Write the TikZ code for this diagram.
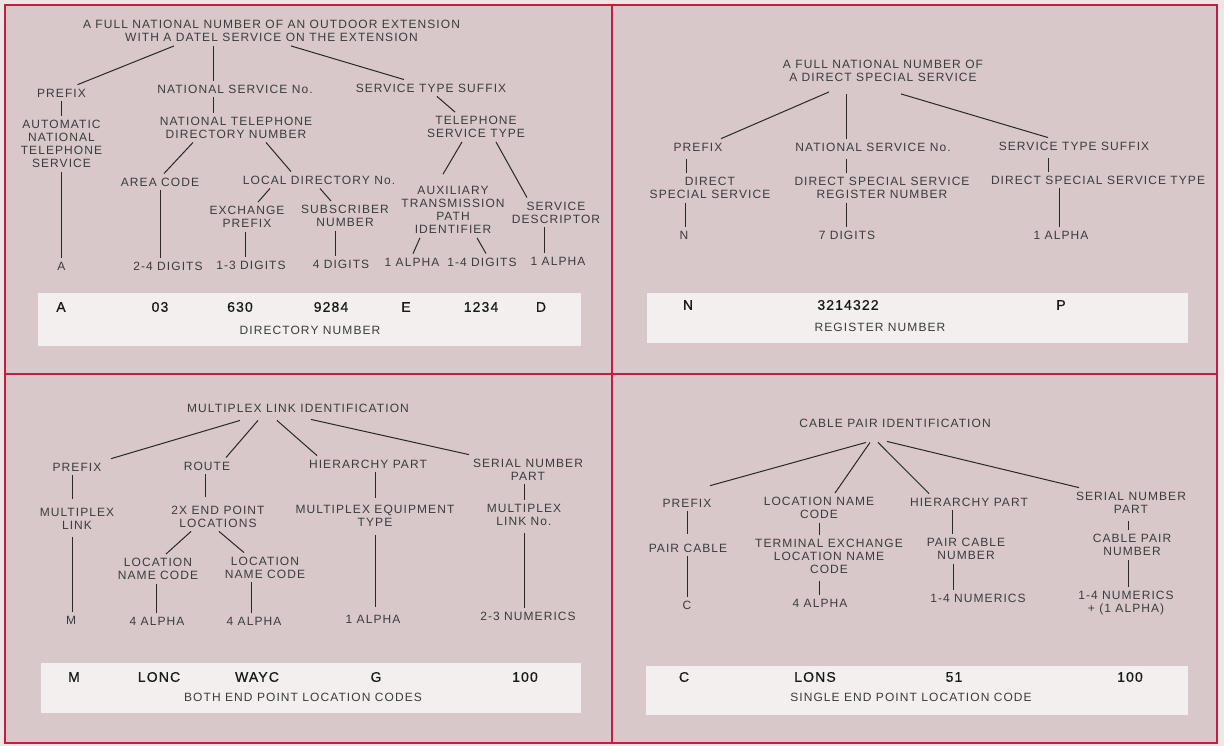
\documentclass[tikz,border=0pt]{standalone}
\usepackage{fontspec}
\setmainfont{Liberation Sans}
\newfontfamily\lblfont[LetterSpace=9]{Liberation Sans}
\newfontfamily\valfont[LetterSpace=8,FakeBold=0.6]{Liberation Sans}
\usetikzlibrary{calc}
\definecolor{paper}{RGB}{238,229,229}
\definecolor{card}{RGB}{217,200,201}
\definecolor{strip}{RGB}{243,239,238}
\definecolor{frame}{RGB}{196,28,66}
\definecolor{ink}{RGB}{40,40,40}
\definecolor{txt}{RGB}{60,60,60}
\definecolor{valtxt}{RGB}{25,25,25}
\tikzset{
	lbl/.style={font=\lblfont\fontsize{12}{13}\selectfont, text=txt, inner sep=4pt, align=center},
	val/.style={font=\valfont\fontsize{14}{16}\selectfont, text=valtxt, inner sep=0pt},
	link/.style={draw=ink, line width=1pt},
	edge/.style={draw=frame, line width=2.6pt}
}

\begin{document}
\begin{tikzpicture}[x=1pt,y=-1pt]
		\fill[paper] (0,0) rectangle (1224,746);
		\useasboundingbox (0,0) rectangle (1224,746);
		\fill[card] (5,5) rectangle (1217,743);
		\fill[strip] (38,293) rectangle (581,346);
		\fill[strip] (647,293) rectangle (1188,343);
		\fill[strip] (41,663) rectangle (581,713);
		\fill[strip] (646,666) rectangle (1188,715);
		\draw[edge] (5,5) rectangle (1217,743);
		\draw[edge] (612,5) -- (612,743);
		\draw[edge] (5,374) -- (1217,374);
		
		\node[lbl] (t1) at (271.5,31) {A FULL NATIONAL NUMBER OF AN OUTDOOR EXTENSION\\WITH A DATEL SERVICE ON THE EXTENSION};
		\node[lbl] (p1) at (61.5,93) {PREFIX};
		\node[lbl] (n1) at (235,89) {NATIONAL SERVICE No.};
		\node[lbl] (s1) at (431,88) {SERVICE TYPE SUFFIX};
		\node[lbl] (a1) at (61.5,144) {AUTOMATIC\\NATIONAL\\TELEPHONE\\SERVICE};
		\node[lbl] (d1) at (236,127.5) {NATIONAL TELEPHONE\\DIRECTORY NUMBER};
		\node[lbl] (tt1) at (476,127) {TELEPHONE\\SERVICE TYPE};
		\node[lbl] (ac1) at (160,182) {AREA CODE};
		\node[lbl] (lo1) at (319,180) {LOCAL DIRECTORY No.};
		\node[lbl] (ex1) at (247,217) {EXCHANGE\\PREFIX};
		\node[lbl] (sb1) at (345,216) {SUBSCRIBER\\NUMBER};
		\node[lbl] (ax1) at (453,210) {AUXILIARY\\TRANSMISSION\\PATH\\IDENTIFIER};
		\node[lbl] (sd1) at (556,212.5) {SERVICE\\DESCRIPTOR};
		\node[lbl] (c1a) at (61.5,266) {A};
		\node[lbl] (c1b) at (168,266) {2-4 DIGITS};
		\node[lbl] (c1c) at (251,265) {1-3 DIGITS};
		\node[lbl] (c1d) at (341,264) {4 DIGITS};
		\node[lbl] (c1e) at (412,262) {1 ALPHA};
		\node[lbl] (c1f) at (482,262) {1-4 DIGITS};
		\node[lbl] (c1g) at (558,261) {1 ALPHA};
		\draw[link] ([xshift=-97.5pt]t1.south) -- ([xshift=16pt]p1.north);
		\draw[link] ([xshift=-58.5pt]t1.south) -- ([xshift=-22pt]n1.north);
		\draw[link] ([xshift=19.5pt]t1.south) -- ([xshift=-27pt]s1.north);
		\draw[link] (p1) -- (a1);
		\draw[link] ([xshift=-22pt]n1.south) -- ([xshift=-23pt]d1.north);
		\draw[link] ([xshift=6pt]s1.south) -- ([xshift=-21pt]tt1.north);
		\draw[link] ([xshift=-43pt]d1.south) -- ([xshift=4pt]ac1.north);
		\draw[link] ([xshift=30pt]d1.south) -- ([xshift=-28pt]lo1.north);
		\draw[link] ([xshift=-14pt]tt1.south) -- ([xshift=-10pt,yshift=8pt]ax1.north);
		\draw[link] ([xshift=20pt]tt1.south) -- ([xshift=-29pt]sd1.north);
		\draw[link] ([xshift=-49pt]lo1.south) -- ([xshift=11pt]ex1.north);
		\draw[link] ([xshift=1pt]lo1.south) -- ([xshift=-14pt]sb1.north);
		\draw[link] (a1) -- (c1a);
		\draw[link] (ac1.south) -- ([xshift=-8pt]c1b.north);
		\draw[link] ([xshift=-2pt]ex1.south) -- ([xshift=-6pt]c1c.north);
		\draw[link] ([xshift=-10pt]sb1.south) -- ([xshift=-6pt]c1d.north);
		\draw[link] ([xshift=-33pt]ax1.south) -- ([xshift=1pt]c1e.north);
		\draw[link] ([xshift=24pt]ax1.south) -- ([xshift=4pt]c1f.north);
		\draw[link] ([xshift=-12pt]sd1.south) -- ([xshift=-14pt]c1g.north);
		\node[val] (v1a) at (61,307) {A};
		\node[val] (v1b) at (160,307) {03};
		\node[val] (v1c) at (240,307) {630};
		\node[val] (v1d) at (331,307) {9284};
		\node[val] (v1e) at (406,307) {E};
		\node[val] (v1f) at (481,307) {1234};
		\node[val] (v1g) at (541,307) {D};
		\node[lbl] (k1) at (310,330) {DIRECTORY NUMBER};
		
		\node[lbl] (t2) at (883,71) {A FULL NATIONAL NUMBER OF\\A DIRECT SPECIAL SERVICE};
		\node[lbl] (p2) at (698,147) {PREFIX};
		\node[lbl] (n2) at (873,147) {NATIONAL SERVICE No.};
		\node[lbl] (s2) at (1074,146) {SERVICE TYPE SUFFIX};
		\node[lbl] (ds2) at (710,188) {DIRECT\\SPECIAL SERVICE};
		\node[lbl] (dr2) at (882,188) {DIRECT SPECIAL SERVICE\\REGISTER NUMBER};
		\node[lbl] (dt2) at (1098,180) {DIRECT SPECIAL SERVICE TYPE};
		\node[lbl] (c2a) at (684,235) {N};
		\node[lbl] (c2b) at (847,235) {7 DIGITS};
		\node[lbl] (c2c) at (1061,235) {1 ALPHA};
		\draw[link] ([xshift=-54pt,yshift=-6pt]t2.south) -- ([xshift=23pt]p2.north);
		\draw[link] ([xshift=-37pt,yshift=-8pt]t2.south) -- ([xshift=-27pt]n2.north);
		\draw[link] ([xshift=18pt,yshift=-8pt]t2.south) -- ([xshift=-26pt]s2.north);
		\draw[link] ([xshift=-12pt,yshift=-4pt]p2.south) -- ([xshift=-24pt]ds2.north);
		\draw[link] ([xshift=-27pt,yshift=-4pt]n2.south) -- ([xshift=-36pt]dr2.north);
		\draw[link] ([xshift=-26pt,yshift=-4pt]s2.south) -- ([xshift=-50pt]dt2.north);
		\draw[link] ([xshift=-25pt]ds2.south) -- ([xshift=1pt]c2a.north);
		\draw[link] ([xshift=-36pt]dr2.south) -- ([xshift=-1pt]c2b.north);
		\draw[link] ([xshift=-39pt]dt2.south) -- ([xshift=-2pt]c2c.north);
		\node[val] (v2a) at (688,305) {N};
		\node[val] (v2b) at (848,305) {3214322};
		\node[val] (v2c) at (1061,305) {P};
		\node[lbl] (k2) at (880,327) {REGISTER NUMBER};
		
		\node[lbl] (t3) at (298,408) {MULTIPLEX LINK IDENTIFICATION};
		\node[lbl] (p3) at (77,467) {PREFIX};
		\node[lbl] (r3) at (207,466) {ROUTE};
		\node[lbl] (h3) at (368,464) {HIERARCHY PART};
		\node[lbl] (sn3) at (528,469.5) {SERIAL NUMBER\\PART};
		\node[lbl] (ml3) at (77,519) {MULTIPLEX\\LINK};
		\node[lbl] (ep3) at (218,516.5) {2X END POINT\\LOCATIONS};
		\node[lbl] (me3) at (375,516) {MULTIPLEX EQUIPMENT\\TYPE};
		\node[lbl] (mn3) at (524,515) {MULTIPLEX\\LINK No.};
		\node[lbl] (lo3a) at (158,569) {LOCATION\\NAME CODE};
		\node[lbl] (lo3b) at (265,567.5) {LOCATION\\NAME CODE};
		\node[lbl] (c3a) at (71,620) {M};
		\node[lbl] (c3b) at (157,621) {4 ALPHA};
		\node[lbl] (c3c) at (254,621) {4 ALPHA};
		\node[lbl] (c3d) at (373,619) {1 ALPHA};
		\node[lbl] (c3e) at (528,616) {2-3 NUMERICS};
		\draw[link] ([xshift=-58pt,yshift=-4pt]t3.south) -- ([xshift=34pt]p3.north);
		\draw[link] ([xshift=-40pt,yshift=-4pt]t3.south) -- ([xshift=19pt]r3.north);
		\draw[link] ([xshift=-21pt,yshift=-4pt]t3.south) -- ([xshift=-51pt]h3.north);
		\draw[link] ([xshift=13pt,yshift=-3pt]t3.south) -- ([xshift=-59pt]sn3.north);
		\draw[link] ([xshift=-5pt]p3.south) -- ([xshift=-5pt,yshift=5pt]ml3.north);
		\draw[link] ([xshift=-2pt]r3.south) -- ([xshift=-13pt,yshift=5pt]ep3.north);
		\draw[link] ([xshift=7pt]h3.south) -- ([yshift=3pt]me3.north);
		\draw[link] ([xshift=-4pt]sn3.south) -- (mn3.north);
		\draw[link] ([xshift=-5pt,yshift=-3pt]ml3.south) -- ([xshift=1pt]c3a.north);
		\draw[link] ([xshift=-27pt]ep3.south) -- ([xshift=8pt]lo3a.north);
		\draw[link] ([xshift=1pt]ep3.south) -- ([xshift=-21pt]lo3b.north);
		\draw[link] ([yshift=-4pt]me3.south) -- ([xshift=2pt,yshift=4pt]c3d.north);
		\draw[link] ([yshift=-3pt]mn3.south) -- ([xshift=-4pt]c3e.north);
		\draw[link] ([xshift=-2pt]lo3a.south) -- ([xshift=-1pt]c3b.north);
		\draw[link] ([xshift=-14pt]lo3b.south) -- ([xshift=-3pt]c3c.north);
		\node[val] (v3a) at (74,677) {M};
		\node[val] (v3b) at (159,677) {LONC};
		\node[val] (v3c) at (257,677) {WAYC};
		\node[val] (v3d) at (376,677) {G};
		\node[val] (v3e) at (525,677) {100};
		\node[lbl] (k3) at (303,697) {BOTH END POINT LOCATION CODES};
		
		\node[lbl] (t4) at (895,423) {CABLE PAIR IDENTIFICATION};
		\node[lbl] (p4) at (687,503) {PREFIX};
		\node[lbl] (ln4) at (819,508) {LOCATION NAME\\CODE};
		\node[lbl] (h4) at (969,502) {HIERARCHY PART};
		\node[lbl] (sn4) at (1131,502.5) {SERIAL NUMBER\\PART};
		\node[lbl] (pc4) at (688,548) {PAIR CABLE};
		\node[lbl] (te4) at (829,556) {TERMINAL EXCHANGE\\LOCATION NAME\\CODE};
		\node[lbl] (pn4) at (966,549) {PAIR CABLE\\NUMBER};
		\node[lbl] (cp4) at (1132,545) {CABLE PAIR\\NUMBER};
		\node[lbl] (c4a) at (687,605) {C};
		\node[lbl] (c4b) at (820,603) {4 ALPHA};
		\node[lbl] (c4c) at (978,598) {1-4 NUMERICS};
		\node[lbl] (c4d) at (1126,603.5) {1-4 NUMERICS\\+ (1 ALPHA)};
		\draw[link] ([xshift=-29pt,yshift=-11pt]t4.south) -- ([xshift=23pt,yshift=9pt]p4.north);
		\draw[link] ([xshift=-25pt,yshift=-11pt]t4.south) -- ([xshift=16pt]ln4.north);
		\draw[link] ([xshift=-17pt,yshift=-11pt]t4.south) -- ([xshift=-40pt]h4.north);
		\draw[link] ([xshift=-8pt,yshift=-10pt]t4.south) -- ([xshift=-52pt]sn4.north);
		\draw[link] (p4.south) -- ([xshift=-1pt,yshift=6pt]pc4.north);
		\draw[link] (ln4.south) -- ([xshift=-10pt]te4.north);
		\draw[link] ([xshift=-17pt]h4.south) -- ([xshift=-14pt]pn4.north);
		\draw[link] ([xshift=-3pt,yshift=-4pt]sn4.south) -- ([xshift=-4pt]cp4.north);
		\draw[link] ([xshift=-1pt]pc4.south) -- (c4a.north);
		\draw[link] ([xshift=-10pt,yshift=-4pt]te4.south) -- ([xshift=-1pt]c4b.north);
		\draw[link] ([xshift=-13pt]pn4.south) -- ([xshift=-25pt]c4c.north);
		\draw[link] ([xshift=-4pt]cp4.south) -- ([xshift=2pt]c4d.north);
		\node[val] (v4a) at (684,677) {C};
		\node[val] (v4b) at (815,677) {LONS};
		\node[val] (v4c) at (954,677) {51};
		\node[val] (v4d) at (1130,677) {100};
		\node[lbl] (k4) at (911,697) {SINGLE END POINT LOCATION CODE};
\end{tikzpicture}
\end{document}
